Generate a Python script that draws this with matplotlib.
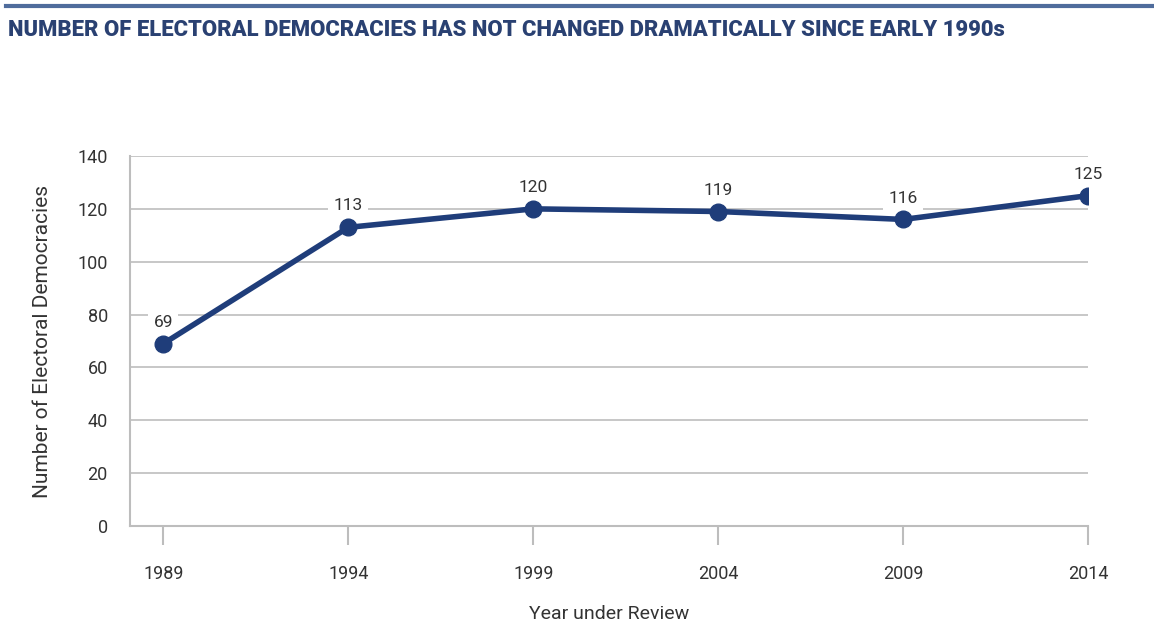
import matplotlib
matplotlib.use('Agg')
import matplotlib.pyplot as plt
from matplotlib.lines import Line2D

years = ['1989', '1994', '1999', '2004', '2009', '2014']
democracies = [69, 113, 120, 119, 116, 125]

navy = '#1f3d7a'
grid_c = '#bdbdbd'
text_c = '#333333'

plt.rcParams['font.family'] = ['Roboto', 'DejaVu Sans']

fig = plt.figure(figsize=(11.54, 6.25), dpi=100)
ax = fig.add_axes([0.1127, 0.1584, 0.8303, 0.592])

x = list(range(len(years)))
ax.plot(x, democracies, color=navy, lw=4, marker='o', ms=12, zorder=3)

# data labels with white boxes cutting the gridlines (kept under the line)
for xi, v in zip(x, democracies):
    ax.annotate(str(v), (xi, v), xytext=(0, 10), textcoords='offset points',
                ha='center', va='bottom', fontsize=12.5, color=text_c,
                bbox=dict(boxstyle='square,pad=0.3', fc='white', ec='none'),
                zorder=2.5)

ax.set_xlim(-0.18, 5.0)
ax.set_ylim(0, 140)
ax.set_yticks(range(0, 141, 20))
ax.set_xticks(x)
ax.set_xticklabels(years)

ax.yaxis.grid(True, color=grid_c, lw=1.2)
ax.set_axisbelow(True)
for s in ['top', 'right']:
    ax.spines[s].set_visible(False)
for s in ['left', 'bottom']:
    ax.spines[s].set_color(grid_c)
    ax.spines[s].set_linewidth(1.5)

ax.tick_params(axis='y', length=0, pad=16, labelsize=13, labelcolor=text_c)
ax.tick_params(axis='x', length=14, width=1.5, color=grid_c, pad=14,
               labelsize=13, labelcolor=text_c, direction='out')

ax.set_ylabel('Number of Electoral Democracies', fontsize=15, color=text_c, labelpad=18)
ax.set_xlabel('Year under Review', fontsize=14, color=text_c, labelpad=16)

fig.add_artist(Line2D([0.005, 1.0], [0.99, 0.99], color='#4f6c9c', lw=3))
fig.text(0.007, 0.952, 'NUMBER OF ELECTORAL DEMOCRACIES HAS NOT CHANGED DRAMATICALLY SINCE EARLY 1990s',
         fontsize=15.8, fontweight='heavy', color='#2a4172', va='center')

fig.savefig('out.png', dpi=100)
